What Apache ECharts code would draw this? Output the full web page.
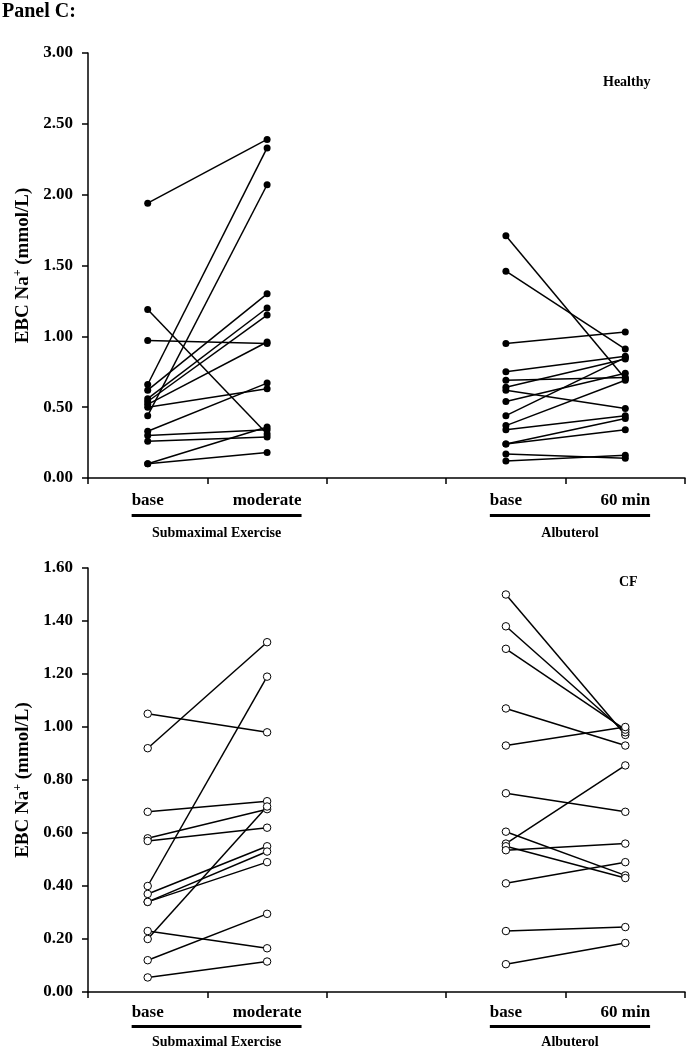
<!DOCTYPE html>
<html><head><meta charset="utf-8">
<script src="https://cdn.jsdelivr.net/npm/echarts@6/dist/echarts.min.js"></script>
<style>html,body{margin:0;padding:0;background:#fff}#c{width:687px;height:1050px}</style>
</head><body><div id="c"></div>
<script>
// ---- data ----
const categories = ['base', 'moderate', '', 'base', '60 min'];
const groupLabels = ['Submaximal Exercise', 'Albuterol'];
const panelTitles = ['Healthy', 'CF'];
const yTicksTop = [0, 3, 0.5];
const yTicksBottom = [0, 1.6, 0.2];

const healthyExerciseBase     = [1.94, 1.19, 0.97, 0.66, 0.62, 0.56, 0.54, 0.52, 0.50, 0.44, 0.33, 0.30, 0.26, 0.10, 0.10];
const healthyExerciseModerate = [2.39, 0.31, 0.95, 2.33, 1.30, 1.20, 1.15, 0.96, 0.63, 2.07, 0.67, 0.34, 0.29, 0.36, 0.18];
const healthyAlbuterolBase    = [1.71, 1.46, 0.95, 0.75, 0.69, 0.64, 0.62, 0.54, 0.44, 0.37, 0.34, 0.24, 0.24, 0.17, 0.12];
const healthyAlbuterol60      = [0.70, 0.91, 1.03, 0.86, 0.71, 0.84, 0.49, 0.74, 0.85, 0.69, 0.44, 0.42, 0.34, 0.14, 0.16];

const cfExerciseBase     = [1.05, 0.92, 0.68, 0.58, 0.57, 0.40, 0.37, 0.34, 0.34, 0.23, 0.20, 0.12, 0.055];
const cfExerciseModerate = [0.98, 1.32, 0.72, 0.69, 0.62, 1.19, 0.55, 0.53, 0.49, 0.165, 0.70, 0.295, 0.115];
const cfAlbuterolBase    = [1.50, 1.38, 1.295, 1.07, 0.93, 0.75, 0.605, 0.56, 0.55, 0.535, 0.41, 0.23, 0.105];
const cfAlbuterol60      = [0.97, 0.98, 0.99, 0.93, 1.00, 0.68, 0.44, 0.855, 0.43, 0.56, 0.49, 0.245, 0.185];

// ---- chart ----
const FONT = 'Liberation Serif';
const chart = echarts.init(document.getElementById('c'), null, {renderer: 'canvas'});

function pairs(before, after, i0, i1, g, filled) {
  return before.map((b, k) => ({
    type: 'line', xAxisIndex: g, yAxisIndex: g, animation: false, silent: true,
    data: [[i0, b], [i1, after[k]]],
    symbol: 'circle', symbolSize: filled ? 7 : 7.5, showSymbol: true,
    lineStyle: {color: '#000', width: 1.5},
    itemStyle: {color: filled ? '#000' : '#fff', borderColor: '#000', borderWidth: filled ? 0 : 1},
    z: 3
  }));
}

const series = [].concat(
  pairs(healthyExerciseBase, healthyExerciseModerate, 0, 1, 0, true),
  pairs(healthyAlbuterolBase, healthyAlbuterol60, 3, 4, 0, true),
  pairs(cfExerciseBase, cfExerciseModerate, 0, 1, 1, false),
  pairs(cfAlbuterolBase, cfAlbuterol60, 3, 4, 1, false)
);

function xAxis(g, margin) {
  return {
    type: 'category', gridIndex: g, data: categories, boundaryGap: true,
    axisLine: {onZero: false, lineStyle: {color: '#000', width: 1.5}},
    axisTick: {show: true, length: 6, inside: false, alignWithLabel: false, lineStyle: {color: '#000', width: 1.5}},
    axisLabel: {interval: 0, margin: margin, color: '#000', fontFamily: FONT, fontWeight: 'bold', fontSize: 17},
    splitLine: {show: false}
  };
}
function yAxis(g, t) {
  return {
    type: 'value', gridIndex: g, min: t[0], max: t[1], interval: t[2],
    name: 'EBC Na{sup|+} (mmol/L)', nameLocation: 'middle', nameGap: 48,
    nameTextStyle: {color: '#000', fontFamily: FONT, fontWeight: 'bold', fontSize: 19,
      rich: {sup: {fontSize: 12, fontFamily: FONT, fontWeight: 'bold', color: '#000', verticalAlign: 'top', padding: [0, 0, 9, 0]}}},
    axisLine: {show: true, lineStyle: {color: '#000', width: 1.5}},
    axisTick: {show: true, length: 6, inside: false, lineStyle: {color: '#000', width: 1.5}},
    axisLabel: {margin: 15, color: '#000', fontFamily: FONT, fontWeight: 'bold', fontSize: 17,
      formatter: v => v.toFixed(2)},
    splitLine: {show: false}
  };
}

chart.setOption({
  backgroundColor: '#fff',
  animation: false,
  title: [
    {text: 'Panel C:', left: 2, top: 2, padding: 0, textStyle: {fontFamily: FONT, fontWeight: 'bold', fontSize: 20, color: '#000'}},
    {text: panelTitles[0], left: 598, top: 70, textStyle: {fontFamily: FONT, fontWeight: 'bold', fontSize: 14, color: '#000'}},
    {text: panelTitles[1], left: 614, top: 570, textStyle: {fontFamily: FONT, fontWeight: 'bold', fontSize: 14, color: '#000'}}
  ],
  grid: [
    {left: 88, top: 53, width: 597, height: 425},
    {left: 88, top: 568, width: 597, height: 424}
  ],
  xAxis: [xAxis(0, 14), xAxis(1, 12)],
  yAxis: [yAxis(0, yTicksTop), yAxis(1, yTicksBottom)],
  series: series
});

// group underline bars + group labels, positioned from the axes
const ctx = document.createElement('canvas').getContext('2d');
ctx.font = 'bold 17px "' + FONT + '"';
const offsets = [[36, 55], [33, 50]];
const graphics = [];
[0, 1].forEach(g => {
  const y0 = chart.convertToPixel({yAxisIndex: g}, 0);
  [[0, 1], [3, 4]].forEach((pair, j) => {
    const xl = chart.convertToPixel({xAxisIndex: g}, pair[0]);
    const xr = chart.convertToPixel({xAxisIndex: g}, pair[1]);
    const wl = ctx.measureText(categories[pair[0]]).width;
    const wr = ctx.measureText(categories[pair[1]]).width;
    const left = xl - wl / 2, right = xr + wr / 2;
    graphics.push({type: 'rect', shape: {x: left, y: y0 + offsets[g][0], width: right - left, height: 3},
      style: {fill: '#000'}, silent: true});
    graphics.push({type: 'text', x: (left + right) / 2, y: y0 + offsets[g][1],
      style: {text: groupLabels[j], fill: '#000', font: 'bold 14px "' + FONT + '"', align: 'center', verticalAlign: 'middle'}, silent: true});
  });
});
chart.setOption({graphic: graphics});
</script>
</body></html>
